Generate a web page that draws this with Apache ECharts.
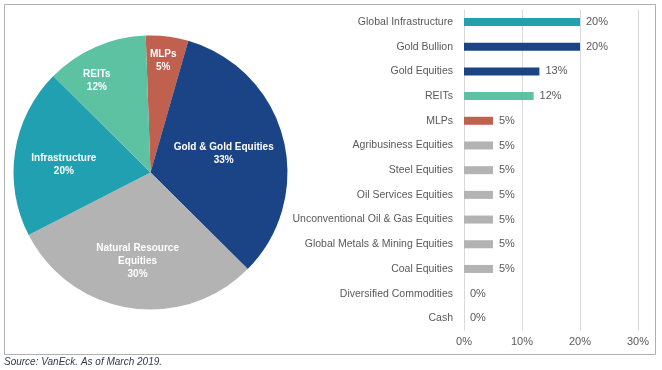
<!DOCTYPE html>
<html>
<head>
<meta charset="utf-8">
<script src="https://cdn.jsdelivr.net/npm/echarts@6/dist/echarts.min.js"></script>
<style>
html,body{margin:0;padding:0;background:#fff;}
#chart{width:662px;height:370px;}
</style>
</head>
<body>
<div id="chart"></div>
<script>
// Pie data
const pieNames = ['MLPs', 'Gold & Gold Equities', 'Natural Resource\nEquities', 'Infrastructure', 'REITs'];
const pieValues = [5, 33, 30, 20, 12];
const pieColors = ['#C0604F', '#1B4486', '#B3B3B3', '#21A0B1', '#5CC2A1'];

// Bar data
const barCategories = ['Global Infrastructure', 'Gold Bullion', 'Gold Equities', 'REITs', 'MLPs',
  'Agribusiness Equities', 'Steel Equities', 'Oil Services Equities', 'Unconventional Oil & Gas Equities',
  'Global Metals & Mining Equities', 'Coal Equities', 'Diversified Commodities', 'Cash'];
const barValues = [20, 20, 13, 12, 5, 5, 5, 5, 5, 5, 5, 0, 0];
const barColors = ['#21A0B1', '#1B4486', '#1B4486', '#5CC2A1', '#C0604F', '#B3B3B3', '#B3B3B3',
  '#B3B3B3', '#B3B3B3', '#B3B3B3', '#B3B3B3', '#B3B3B3', '#B3B3B3'];
const xTicks = [0, 10, 20, 30];

const sans = "'Liberation Sans', Arial, sans-serif";
const labelOffsets = { 'MLPs': [4, -41], 'Gold & Gold Equities': [4, -1], 'Natural Resource\nEquities': [-2, 18], 'Infrastructure': [-16, 3], 'REITs': [-25, -26] };

const chart = echarts.init(document.getElementById('chart'), null, { renderer: 'canvas' });
chart.setOption({
  animation: false,
  backgroundColor: '#fff',
  graphic: [
    { type: 'rect', shape: { x: 4.5, y: 4.5, width: 651, height: 350 }, style: { fill: 'none', stroke: '#b0b0b0', lineWidth: 1 }, silent: true },
    { type: 'text', left: 4, top: 357, style: { text: 'Source: VanEck. As of March 2019.', font: "italic 10px 'Liberation Sans', Arial, sans-serif", fill: '#2f3a4f' } }
  ],
  grid: { left: 464, right: 24, top: 9.67, bottom: 39.33, containLabel: false },
  xAxis: {
    type: 'value', min: xTicks[0], max: xTicks[xTicks.length - 1], interval: 10,
    axisLine: { show: false }, axisTick: { show: false },
    axisLabel: { formatter: '{value}%', color: '#595959', fontSize: 11, fontFamily: sans, margin: 6 },
    splitLine: { lineStyle: { color: '#d9d9d9', width: 1 } }
  },
  yAxis: {
    type: 'category', data: barCategories, inverse: true,
    axisLine: { show: false }, axisTick: { show: false },
    axisLabel: { color: '#595959', fontSize: 10.5, fontFamily: sans, margin: 11 }
  },
  series: [
    {
      type: 'bar',
      data: barValues.map((v, i) => ({ value: v, itemStyle: { color: barColors[i] } })),
      barWidth: 8,
      label: { show: true, position: 'right', distance: 6, formatter: '{c}%', color: '#595959', fontSize: 11, fontFamily: sans }
    },
    {
      type: 'pie',
      center: [150.5, 172.5],
      radius: 137,
      startAngle: 92,
      clockwise: true,
      data: pieNames.map((n, i) => ({
        name: n, value: pieValues[i], itemStyle: { color: pieColors[i] },
        label: { offset: labelOffsets[n] }
      })),
      label: {
        show: true, position: 'inside', formatter: '{b}\n{c}%', color: '#fff',
        fontSize: 10, fontWeight: 'bold', fontFamily: sans, lineHeight: 13, align: 'center'
      },
      labelLine: { show: false },
      emphasis: { disabled: true }
    }
  ]
});
</script>
</body>
</html>
